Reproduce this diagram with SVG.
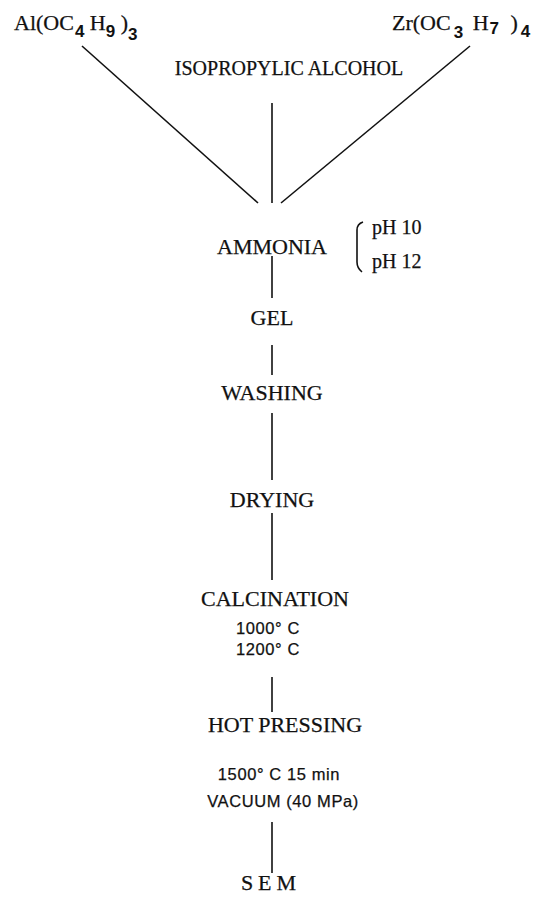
<svg xmlns="http://www.w3.org/2000/svg" width="549" height="909" viewBox="0 0 549 909">
<style>
.t{font-family:"Liberation Serif","Times New Roman",serif;font-size:22px;fill:#111;stroke:#111;stroke-width:0.25}
.c{text-anchor:middle}
.sub{font-family:"Liberation Sans",Arial,sans-serif;font-size:17px;font-weight:bold;stroke-width:0}
.s{font-family:"Liberation Sans",Arial,sans-serif;font-size:16.5px;fill:#111;stroke:#111;stroke-width:0.25;text-anchor:middle;letter-spacing:0.6px}
.ln{stroke:#111;stroke-width:1.6;fill:none}
</style>
<rect width="549" height="909" fill="#fff"/>
<g id="connectors">
<line class="ln" x1="82" y1="46" x2="258" y2="203"/>
<line class="ln" x1="470" y1="46" x2="281" y2="203"/>
<line class="ln" x1="272" y1="103" x2="272" y2="203"/>
<line class="ln" x1="272" y1="256" x2="272" y2="298"/>
<line class="ln" x1="272" y1="345" x2="272" y2="375"/>
<line class="ln" x1="272" y1="413" x2="272" y2="480"/>
<line class="ln" x1="272" y1="513" x2="272" y2="580"/>
<line class="ln" x1="272" y1="677" x2="272" y2="712"/>
<line class="ln" x1="272" y1="822" x2="272" y2="873"/>
</g>
<g id="al"><text class="t" x="14" y="30">Al(OC<tspan class="sub" dy="7" dx="1">4</tspan><tspan dy="-7"> H</tspan><tspan class="sub" dy="7">9</tspan><tspan dy="-7"> )</tspan><tspan class="sub" dy="10">3</tspan></text></g>
<g id="zr"><text class="t" x="392" y="30">Zr(OC<tspan class="sub" dy="8" dx="3">3</tspan><tspan dy="-8" dx="4"> H</tspan><tspan class="sub" dy="4" dx="1">7</tspan><tspan dy="-4" dx="6"> )</tspan><tspan class="sub" dy="7" dx="3">4</tspan></text></g>
<g id="alcohol"><text class="t c" x="289" y="75" style="font-size:20px">ISOPROPYLIC ALCOHOL</text></g>
<g id="ammonia"><text class="t c" x="272" y="254">AMMONIA</text>
<path class="ln" d="M363 222 Q357 224 357 230 L357 262 Q357 268 362 272"/>
<text class="t" x="372" y="234" style="font-size:20px">pH 10</text>
<text class="t" x="372" y="268" style="font-size:20px">pH 12</text></g>
<g id="gel"><text class="t c" x="272" y="325">GEL</text></g>
<g id="washing"><text class="t c" x="272" y="400">WASHING</text></g>
<g id="drying"><text class="t c" x="272" y="507">DRYING</text></g>
<g id="calcination"><text class="t c" x="275" y="606">CALCINATION</text>
<text class="s" x="268" y="634">1000°  C</text>
<text class="s" x="268" y="655">1200°  C</text></g>
<g id="hotpressing"><text class="t c" x="285" y="732">HOT PRESSING</text>
<text class="s" x="279" y="780">1500° C 15 min</text>
<text class="s" x="283" y="807">VACUUM (40 MPa)</text></g>
<g id="sem"><text class="t c" x="271" y="890" style="letter-spacing:5px">SEM</text></g>
</svg>
